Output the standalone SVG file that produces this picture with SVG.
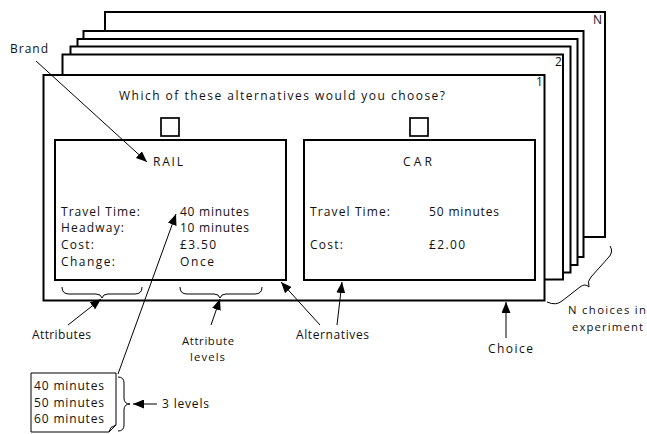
<svg xmlns="http://www.w3.org/2000/svg" width="647" height="434" viewBox="0 0 647 434">
<style>
text{font-family:"Open Sans","Noto Sans","Liberation Sans",sans-serif;font-size:12px;fill:#111}
.sm{font-size:11.3px}
.sheet{fill:#fff;stroke:#000;stroke-width:2}
.box{fill:#fff;stroke:#000;stroke-width:2}
.chk{fill:none;stroke:#000;stroke-width:1.7}
.ln{fill:none;stroke:#000;stroke-width:1}
.ar{fill:none;stroke:#000;stroke-width:1;marker-end:url(#ah)}
</style>
<defs>
<marker id="ah" markerUnits="userSpaceOnUse" markerWidth="11" markerHeight="9" refX="11" refY="4.5" orient="auto">
<path d="M0,0 L11,4.5 L0,9 Z" fill="#000"/>
</marker>
</defs>
<g id="sheets">
<rect class="sheet" x="105" y="12" width="500" height="225"/>
<text x="593" y="24">N</text>
<rect class="sheet" x="83.5" y="31" width="500" height="226"/>
<rect class="sheet" x="77.5" y="39" width="500" height="226"/>
<rect class="sheet" x="70.5" y="46.5" width="500" height="226"/>
<rect class="sheet" x="62.5" y="54.5" width="500.5" height="225"/>
<text x="555" y="66">2</text>
</g>
<g id="choice-sheet">
<rect class="sheet" x="43.5" y="75" width="501" height="225.5"/>
<text x="536" y="86">1</text>
<text x="119" y="100" textLength="326" lengthAdjust="spacing">Which of these alternatives would you choose?</text>
<rect class="chk" x="161" y="118" width="18" height="18"/>
<rect class="chk" x="410" y="118" width="18" height="18"/>
</g>
<g id="rail">
<rect class="box" x="55" y="140" width="231" height="140"/>
<text x="153" y="166" textLength="30" lengthAdjust="spacing">RAIL</text>
<text x="61" y="215.5" textLength="79" lengthAdjust="spacing">Travel Time:</text>
<text x="61" y="232" textLength="63" lengthAdjust="spacing">Headway:</text>
<text x="61" y="248.5" textLength="33" lengthAdjust="spacing">Cost:</text>
<text x="61" y="265.5" textLength="54" lengthAdjust="spacing">Change:</text>
<text x="180" y="215.5" textLength="69" lengthAdjust="spacing">40 minutes</text>
<text x="180" y="232" textLength="69" lengthAdjust="spacing">10 minutes</text>
<text x="180" y="248.5" textLength="36" lengthAdjust="spacing">£3.50</text>
<text x="180" y="265.5" textLength="34" lengthAdjust="spacing">Once</text>
</g>
<g id="car">
<rect class="box" x="304" y="140" width="231" height="140"/>
<text x="403" y="166" textLength="29" lengthAdjust="spacing">CAR</text>
<text x="310" y="216" textLength="80" lengthAdjust="spacing">Travel Time:</text>
<text x="429" y="216" textLength="70" lengthAdjust="spacing">50 minutes</text>
<text x="310" y="248.5" textLength="33" lengthAdjust="spacing">Cost:</text>
<text x="429" y="248.5" textLength="36" lengthAdjust="spacing">£2.00</text>
</g>
<g id="levels-box">
<path class="ln" d="M31,373 H116 V425 L109,432 H31 Z"/>
<path class="ln" d="M116,425 L111,427.5 L109,432"/>
<text x="34" y="390" textLength="70" lengthAdjust="spacing">40 minutes</text>
<text x="34" y="406.7" textLength="70" lengthAdjust="spacing">50 minutes</text>
<text x="34" y="423.3" textLength="70" lengthAdjust="spacing">60 minutes</text>
</g>
<g id="labels">
<text x="10" y="53" textLength="38" lengthAdjust="spacing">Brand</text>
<text x="32" y="339" textLength="59" lengthAdjust="spacing">Attributes</text>
<text class="sm" x="182" y="344.5" textLength="52" lengthAdjust="spacing">Attribute</text>
<text class="sm" x="190" y="361" textLength="35" lengthAdjust="spacing">levels</text>
<text x="296" y="339" textLength="73" lengthAdjust="spacing">Alternatives</text>
<text x="488" y="353" textLength="45" lengthAdjust="spacing">Choice</text>
<text class="sm" x="568" y="314" textLength="78" lengthAdjust="spacing">N choices in</text>
<text class="sm" x="572" y="330.5" textLength="71" lengthAdjust="spacing">experiment</text>
<text x="162" y="408" textLength="47" lengthAdjust="spacing">3 levels</text>
</g>
<g id="connectors">
<path class="ln" d="M62,287 Q62,294 69,294 H96 Q101,294 102,298 Q103,294 108,294 H135 Q142,294 142,287"/>
<path class="ln" d="M180,287 Q180,294 187,294 H214 Q219,294 220,298 Q221,294 226,294 H255 Q262,294 262,287"/>
<path class="ln" d="M118,377 Q124,377 124,383 V398 Q124,404 130,404 Q124,404 124,410 V425 Q124,431 118,431"/>
<path class="ln" d="M610,246 Q614,252 608,258 L591,277 Q587,281 589,287 Q585,283 580,287 L562,301 Q556,306 547,302"/>
<line class="ar" x1="36" y1="61" x2="147" y2="162"/>
<line class="ar" x1="118" y1="374" x2="176" y2="214"/>
<line class="ar" x1="68" y1="325" x2="101" y2="299"/>
<line class="ar" x1="211" y1="325" x2="220" y2="299"/>
<line class="ar" x1="320" y1="325" x2="281" y2="282"/>
<line class="ar" x1="337" y1="325" x2="342" y2="282"/>
<line class="ar" x1="506" y1="338" x2="506" y2="302"/>
<line class="ar" x1="157" y1="404" x2="133" y2="404"/>
</g>
</svg>
